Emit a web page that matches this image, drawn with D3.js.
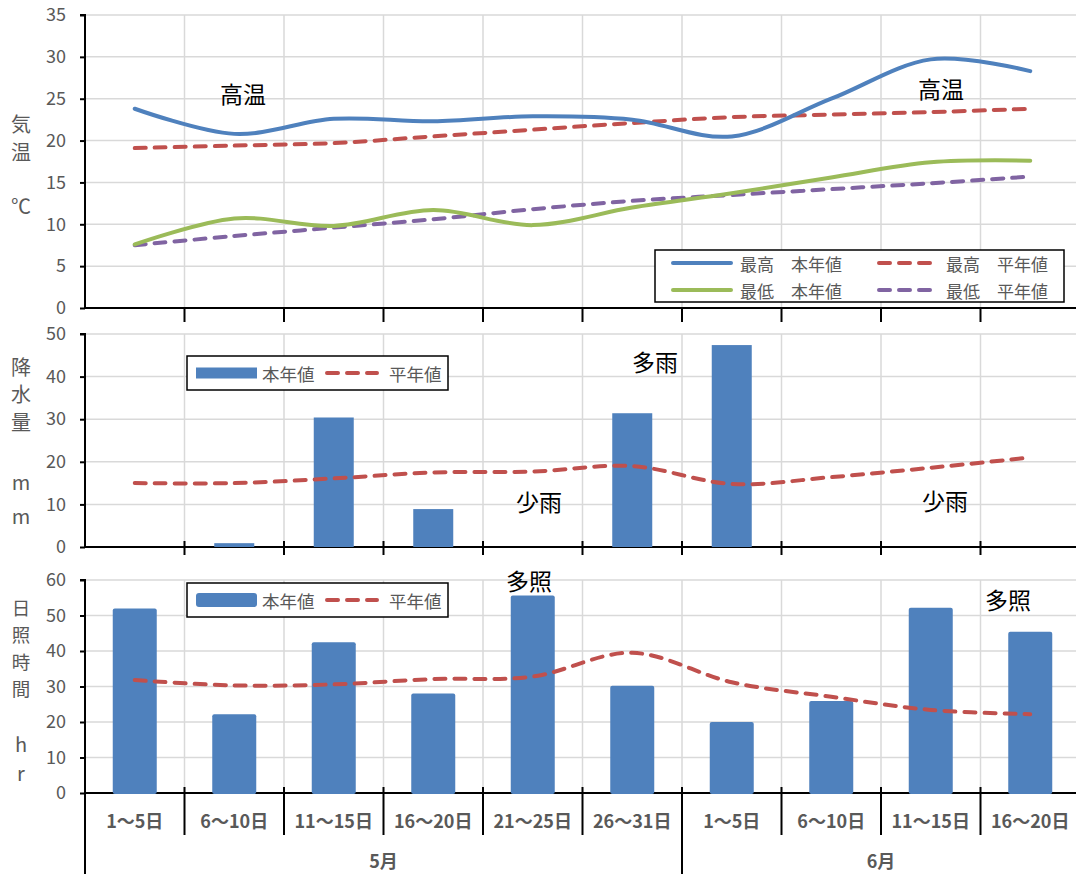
<!DOCTYPE html>
<html>
<head>
<meta charset="utf-8">
<script src="https://cdn.jsdelivr.net/npm/d3@7/dist/d3.min.js"></script>
<style>
  html, body { margin: 0; padding: 0; background: #fff; }
  svg { display: block; font-family: "Noto Sans CJK JP", "Noto Sans", sans-serif; }
</style>
</head>
<body>
<svg id="chart" width="1076" height="874"></svg>
<script>
// Five-day periods, May–June
const categories = ["1～5日", "6～10日", "11～15日", "16～20日", "21～25日", "26～31日",
                    "1～5日", "6～10日", "11～15日", "16～20日"];
const monthLabels = ["5月", "6月"];
const monthSpans = [6, 4];

// Temperature (°C)
const tempMaxThisYear = [23.8, 20.8, 22.6, 22.3, 22.9, 22.5, 20.5, 25.0, 29.7, 28.3];
const tempMaxNormal   = [19.1, 19.4, 19.7, 20.5, 21.3, 22.1, 22.8, 23.1, 23.4, 23.8];
const tempMinThisYear = [7.6, 10.7, 9.8, 11.7, 9.9, 12.0, 13.7, 15.6, 17.4, 17.6];
const tempMinNormal   = [7.5, 8.6, 9.6, 10.6, 11.8, 12.8, 13.5, 14.2, 14.9, 15.7];

// Precipitation (mm)
const rainThisYear = [0, 0.9, 30.4, 8.9, 0, 31.4, 47.4, 0, 0, 0];
const rainNormal   = [15.0, 15.0, 16.1, 17.5, 17.7, 19.0, 14.8, 16.4, 18.6, 21.0];

// Sunshine duration (hr)
const sunThisYear = [52.0, 22.2, 42.5, 28.0, 55.6, 30.2, 20.0, 25.9, 52.2, 45.4];
const sunNormal   = [31.8, 30.3, 30.6, 32.1, 32.8, 39.5, 31.2, 27.1, 23.4, 22.2];

// Axis ticks
const tempTicks = [0, 5, 10, 15, 20, 25, 30, 35];
const rainTicks = [0, 10, 20, 30, 40, 50];
const sunTicks  = [0, 10, 20, 30, 40, 50, 60];

const C = {
  blue: "#4F81BD", red: "#C0504D", green: "#9BBB59", purple: "#8064A2",
  grid: "#d9d9d9", text: "#595959", axis: "#000"
};

const svg = d3.select("#chart");
const left = 85, right = 1080;

const x = d3.scaleBand().domain(d3.range(categories.length)).range([left, right]);
const bw = x.bandwidth();
const cx = i => x(i) + bw / 2;

const yTemp = d3.scaleLinear().domain([0, 35]).range([308, 15]);
const yRain = d3.scaleLinear().domain([0, 50]).range([547, 334]);
const ySun  = d3.scaleLinear().domain([0, 60]).range([793, 580]);

const smooth = d3.curveCardinal.tension(0);

function panelFrame(y, ticks, tickDown, tickUp) {
  const g = svg.append("g");
  const [y0, y1] = y.range();
  // horizontal gridlines
  g.selectAll(".hg").data(ticks.filter(t => t !== 0)).join("line")
    .attr("x1", left).attr("x2", right)
    .attr("y1", d => y(d)).attr("y2", d => y(d))
    .attr("stroke", C.grid).attr("stroke-width", 1.5);
  // vertical gridlines at period boundaries
  g.selectAll(".vg").data(d3.range(1, categories.length)).join("line")
    .attr("x1", d => x(d)).attr("x2", d => x(d))
    .attr("y1", y1).attr("y2", y0)
    .attr("stroke", C.grid).attr("stroke-width", 1.5);
  // y axis
  const ax = d3.axisLeft(y).tickValues(ticks).tickSize(5).tickPadding(14).tickFormat(d3.format("d"));
  const ga = g.append("g").attr("transform", `translate(${left},0)`).call(ax);
  ga.select(".domain").attr("stroke", C.axis).attr("stroke-width", 2).attr("d", `M-5,${y1}H0V${y0}`);
  ga.selectAll(".tick line").attr("stroke", C.axis).attr("stroke-width", 2);
  ga.selectAll(".tick text").attr("fill", C.text).style("font-size", "18px")
    .style("font-family", "'Noto Sans CJK JP', sans-serif");
  // category axis line with boundary ticks
  g.append("line").attr("x1", left).attr("x2", right).attr("y1", y0).attr("y2", y0)
    .attr("stroke", C.axis).attr("stroke-width", 2);
  g.selectAll(".xt").data(d3.range(1, categories.length)).join("line")
    .attr("x1", d => x(d)).attr("x2", d => x(d))
    .attr("y1", y0 - tickUp).attr("y2", y0 + tickDown)
    .attr("stroke", C.axis).attr("stroke-width", 2);
  return g;
}

function vText(xPos, items, size) {
  items.forEach(([t, yPos]) => {
    svg.append("text").attr("x", xPos).attr("y", yPos).attr("text-anchor", "middle")
      .attr("dominant-baseline", "central").attr("fill", C.text)
      .style("font-size", (size || 20) + "px").text(t);
  });
}

function note(t, xPos, yPos) {
  svg.append("text").attr("x", xPos).attr("y", yPos).attr("text-anchor", "middle")
    .attr("dominant-baseline", "central").attr("fill", "#000")
    .style("font-size", "23px").text(t);
}

function drawLine(g, data, y, color, dashed) {
  g.append("path").datum(data)
    .attr("d", d3.line().x((d, i) => cx(i)).y(d => y(d)).curve(smooth))
    .attr("fill", "none").attr("stroke", color).attr("stroke-width", 4)
    .attr("stroke-linecap", "round")
    .attr("stroke-dasharray", dashed ? "11,9" : null);
}

// ---------- Temperature panel ----------
const gT = panelFrame(yTemp, tempTicks, 14, 0);
drawLine(gT, tempMaxNormal, yTemp, C.red, true);
drawLine(gT, tempMinNormal, yTemp, C.purple, true);
drawLine(gT, tempMaxThisYear, yTemp, C.blue, false);
drawLine(gT, tempMinThisYear, yTemp, C.green, false);
vText(21, [["気", 123], ["温", 151], ["℃", 205]]);
note("高温", 243, 93);
note("高温", 941, 88);

// temperature legend
const lg = svg.append("g");
lg.append("rect").attr("x", 655).attr("y", 250).attr("width", 409).attr("height", 52)
  .attr("fill", "#fff").attr("stroke", "#000").attr("stroke-width", 1.5);
const tLegend = [
  { label: "最高\u3000本年値", color: C.blue, dashed: false, x: 673, y: 263 },
  { label: "最高\u3000平年値", color: C.red, dashed: true, x: 879, y: 263 },
  { label: "最低\u3000本年値", color: C.green, dashed: false, x: 673, y: 290 },
  { label: "最低\u3000平年値", color: C.purple, dashed: true, x: 879, y: 290 }
];
tLegend.forEach(d => {
  lg.append("line").attr("x1", d.x).attr("x2", d.x + 58).attr("y1", d.y).attr("y2", d.y)
    .attr("stroke", d.color).attr("stroke-width", 4).attr("stroke-linecap", "round")
    .attr("stroke-dasharray", d.dashed ? "11,9" : null);
  lg.append("text").attr("x", d.x + 67).attr("y", d.y).attr("dominant-baseline", "central")
    .attr("fill", C.text).style("font-size", "17px").text(d.label);
});

// ---------- Precipitation panel ----------
const gR = panelFrame(yRain, rainTicks, 8, 6);
gR.selectAll(".bar").data(rainThisYear).join("rect")
  .attr("x", (d, i) => cx(i) - 20).attr("width", 40)
  .attr("y", d => yRain(d)).attr("height", d => yRain(0) - yRain(d))
  .attr("fill", C.blue);
drawLine(gR, rainNormal, yRain, C.red, true);
vText(21, [["降", 366], ["水", 393], ["量", 421], ["m", 481], ["m", 515]]);
note("多雨", 655, 361);
note("少雨", 539, 501);
note("少雨", 945, 500);

function barLegend(top, barH, rx) {
  const g = svg.append("g");
  g.append("rect").attr("x", 187).attr("y", top).attr("width", 261).attr("height", 34)
    .attr("fill", "#fff").attr("stroke", "#000").attr("stroke-width", 1.5);
  g.append("rect").attr("x", 196).attr("y", top + 17 - barH / 2).attr("width", 61).attr("height", barH)
    .attr("rx", rx).attr("fill", C.blue);
  g.append("text").attr("x", 262).attr("y", top + 17).attr("dominant-baseline", "central")
    .attr("fill", C.text).style("font-size", "17.5px").text("本年値");
  g.append("line").attr("x1", 327).attr("x2", 377).attr("y1", top + 17).attr("y2", top + 17)
    .attr("stroke", C.red).attr("stroke-width", 4).attr("stroke-linecap", "round")
    .attr("stroke-dasharray", "11,9");
  g.append("text").attr("x", 389).attr("y", top + 17).attr("dominant-baseline", "central")
    .attr("fill", C.text).style("font-size", "17.5px").text("平年値");
}
barLegend(356, 11, 0);

// ---------- Sunshine panel ----------
const gS = panelFrame(ySun, sunTicks, 42, 6);
gS.selectAll(".bar").data(sunThisYear).join("rect")
  .attr("x", (d, i) => cx(i) - 22).attr("width", 44)
  .attr("y", d => ySun(d)).attr("height", d => ySun(0) - ySun(d) + 1)
  .attr("rx", 2).attr("fill", C.blue);
drawLine(gS, sunNormal, ySun, C.red, true);
vText(21, [["日", 607], ["照", 634], ["時", 661], ["間", 688]], 18.5);
vText(21, [["h", 743], ["r", 772]]);
note("多照", 529, 580);
note("多照", 1008, 599);
barLegend(583, 14, 3);

// ---------- Category & month labels ----------
svg.append("g").selectAll("text").data(categories).join("text")
  .attr("x", (d, i) => cx(i)).attr("y", 820).attr("text-anchor", "middle")
  .attr("dominant-baseline", "central").attr("fill", C.text)
  .style("font-size", "18px").style("font-weight", "bold").text(d => d);

let start = 0;
const monthBounds = [];
monthLabels.forEach((m, k) => {
  const a = x(start), b = start + monthSpans[k] < categories.length ? x(start + monthSpans[k]) : right;
  monthBounds.push(a);
  svg.append("text").attr("x", (a + b) / 2).attr("y", 860).attr("text-anchor", "middle")
    .attr("dominant-baseline", "central").attr("fill", C.text)
    .style("font-size", "18px").style("font-weight", "bold").text(m);
  start += monthSpans[k];
});
svg.selectAll(".mb").data(monthBounds).join("line")
  .attr("x1", d => d).attr("x2", d => d).attr("y1", 793).attr("y2", 874)
  .attr("stroke", C.axis).attr("stroke-width", 2);
</script>
</body>
</html>
